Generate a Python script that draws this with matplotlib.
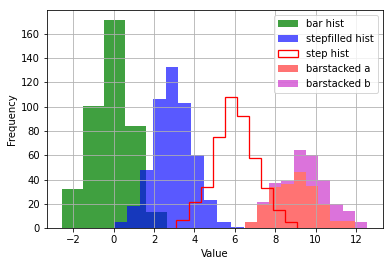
import numpy as np
import matplotlib
matplotlib.use('Agg')
import matplotlib.pyplot as plt

# bin edges and counts
bar_edges = [-2.54, -1.50, -0.46, 0.58, 1.62, 2.66]
bar_counts = [32, 101, 171, 84, 13]

stepfilled_edges = [0.0, 0.645, 1.29, 1.935, 2.58, 3.2, 3.85, 4.48, 5.13, 5.79, 6.45]
stepfilled_counts = [5, 18, 48, 106, 133, 103, 60, 23, 5, 1]

step_edges = [3.11, 3.71, 4.31, 4.91, 5.51, 6.10, 6.70, 7.29, 7.89, 8.48, 9.07]
step_counts = [7, 22, 34, 75, 108, 92, 58, 33, 15, 5]

stacked_edges = [6.48, 7.08, 7.70, 8.31, 8.92, 9.51, 10.12, 10.72, 11.34, 11.96, 12.56]
stacked_a = [5, 20, 34, 36, 46, 35, 20, 6, 6, 0]
stacked_b = [0, 2, 3, 3, 18, 25, 20, 14, 8, 5]


def centers(edges):
    e = np.array(edges)
    return (e[:-1] + e[1:]) / 2


fig = plt.figure(figsize=(392/72, 266/72), dpi=72)
ax = fig.add_axes([0.12, 0.142, 0.856, 0.820])

ax.hist(centers(bar_edges), bins=bar_edges, weights=bar_counts,
        histtype='bar', color='green', alpha=0.75, label='bar hist')
ax.hist(centers(stepfilled_edges), bins=stepfilled_edges, weights=stepfilled_counts,
        histtype='stepfilled', color='blue', alpha=0.65, label='stepfilled hist')
ax.hist(centers(step_edges), bins=step_edges, weights=step_counts,
        histtype='step', edgecolor='red', linewidth=1.3, label='step hist')
c = centers(stacked_edges)
ax.hist([c, c], bins=stacked_edges, weights=[stacked_a, stacked_b],
        histtype='barstacked', color=['red', 'm'], alpha=0.55,
        label=['barstacked a', 'barstacked b'])

ax.grid(True)
ax.set_xticks(range(-2, 13, 2))
ax.set_yticks(range(0, 161, 20))
ax.set_xlabel('Value')
ax.set_ylabel('Frequency')
ax.legend(loc='upper right')

fig.savefig('out.png', dpi=72)
